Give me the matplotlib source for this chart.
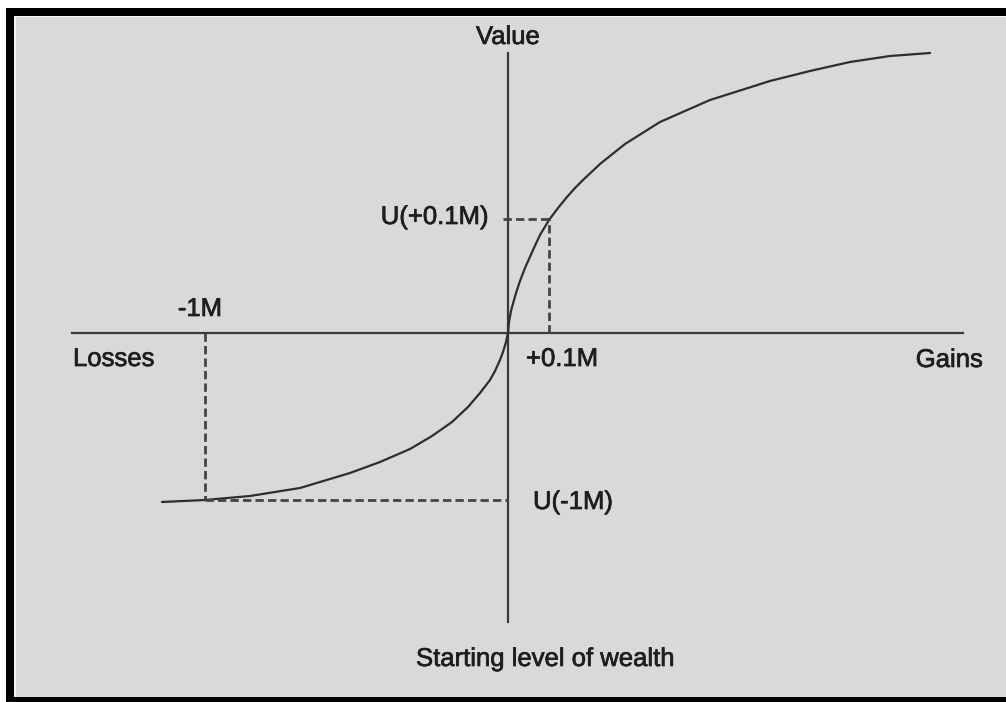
import matplotlib
matplotlib.use("Agg")
import matplotlib.pyplot as plt
import matplotlib.patheffects as pe
from matplotlib.patches import Rectangle

# S-shaped value curve (units: wealth / value)
curve_x = [-3.46, -3.03, -2.58, -2.08, -1.58, -1.28, -0.98, -0.76, -0.56, -0.40,
           -0.28, -0.18, -0.13, -0.08, -0.05, -0.02, 0.0,
           0.01, 0.03, 0.06, 0.09, 0.12, 0.17, 0.25, 0.32, 0.41, 0.50, 0.59,
           0.67, 0.75, 0.92, 1.17, 1.52, 2.02, 2.62, 3.02, 3.42, 3.82, 4.22]
curve_y = [-1.69, -1.67, -1.63, -1.55, -1.40, -1.29, -1.16, -1.03, -0.89, -0.74,
           -0.60, -0.47, -0.38, -0.27, -0.19, -0.09, 0.0,
           0.11, 0.22, 0.33, 0.43, 0.52, 0.65, 0.83, 0.98, 1.13, 1.25, 1.36,
           1.45, 1.53, 1.69, 1.89, 2.11, 2.33, 2.52, 2.62, 2.71, 2.77, 2.80]

# marked points
gain_x, gain_u = 0.41, 1.14     # +0.1M, U(+0.1M)
loss_x, loss_u = -3.03, -1.67   # -1M, U(-1M)

axis_x = [-4.36, 4.55]
axis_y = [-2.89, 2.80]

BG = "#d9d9d9"
LINE = "#3a3a3a"
TXT = "#1e1e1e"
plt.rcParams['font.family'] = ['Liberation Sans', 'DejaVu Sans']

fig = plt.figure(figsize=(10.06, 7.02), dpi=100)
fig.patch.set_facecolor("white")
# frame: black border, thin white line, grey panel
fig.add_artist(Rectangle((6/1006, 0), 1000/1006, 694/702, transform=fig.transFigure,
                         facecolor="black", edgecolor="none", zorder=0))
fig.add_artist(Rectangle((14/1006, 5/702), 992/1006, 681/702, transform=fig.transFigure,
                         facecolor="#f4f4f4", edgecolor="none", zorder=0))
fig.add_artist(Rectangle((16/1006, 5/702), 990/1006, 680/702, transform=fig.transFigure,
                         facecolor=BG, edgecolor="none", zorder=0))

ax = fig.add_axes([0, 0, 1, 1])
ax.set_xlim(-5.08, 4.98)
ax.set_ylim(-3.69, 3.33)
ax.axis("off")
ax.patch.set_alpha(0)

# axes
ax.plot(axis_x, [0, 0], color=LINE, lw=1.6)
ax.plot([0, 0], axis_y, color=LINE, lw=1.6)

# curve
ax.plot(curve_x, curve_y, color="#2e2e2e", lw=1.6, solid_capstyle="round",
        solid_joinstyle="round")

# dashed guides
dash = dict(color="#444444", lw=2.0, ls=(0, (3, 1.5)))
ax.plot([gain_x, gain_x], [0, gain_u], **dash)
ax.plot([-0.05, gain_x], [gain_u, gain_u], **dash)
ax.plot([loss_x, loss_x], [0, loss_u], **dash)
ax.plot([loss_x, 0], [loss_u, loss_u], **dash)

fs = 18.5
st = dict(fontsize=fs, color=TXT,
          path_effects=[pe.withStroke(linewidth=0.5, foreground=TXT)])
ax.text(0, 2.96, "Value", ha="center", va="center", **st)
ax.text(-0.19, gain_u + 0.02, "U(+0.1M)", ha="right", va="center", **st)
ax.text(-3.08, 0.24, "-1M", ha="center", va="center", **st)
ax.text(-4.35, -0.26, "Losses", ha="left", va="center", **st)
ax.text(0.18, -0.26, "+0.1M", ha="left", va="center", **st)
ax.text(4.75, -0.27, "Gains", ha="right", va="center", **st)
ax.text(0.25, -1.69, "U(-1M)", ha="left", va="center", **st)
ax.text(-0.92, -3.26, "Starting level of wealth", ha="left", va="center", **st)

fig.savefig("out.png", dpi=100)
